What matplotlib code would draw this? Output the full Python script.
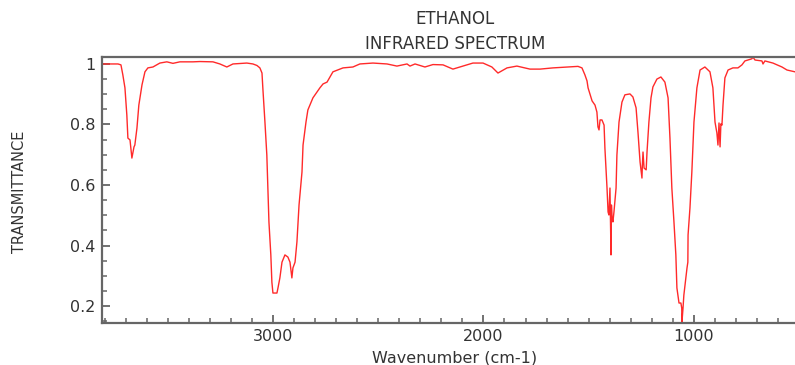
import matplotlib
matplotlib.use("Agg")
import matplotlib.pyplot as plt
from matplotlib.ticker import MultipleLocator

# spectrum: wavenumber (cm-1) and transmittance
wavenumber = [3812, 3736, 3722, 3713, 3703, 3694, 3689, 3679, 3670, 3660, 3656, 3646,
              3637, 3622, 3608, 3594, 3570, 3537, 3504, 3475, 3442, 3409, 3380, 3347,
              3285, 3252, 3219, 3190, 3124, 3095, 3076, 3062, 3052, 3048, 3038, 3029,
              3024, 3019, 3010, 3005, 3000, 2981, 2976, 2967, 2957, 2943, 2929, 2919,
              2910, 2905, 2895, 2886, 2876, 2862, 2857, 2843, 2834, 2810, 2777, 2762,
              2743, 2715, 2667, 2620, 2587, 2525, 2458, 2411, 2363, 2349, 2325, 2278,
              2240, 2192, 2145, 2097, 2050, 2002, 1960, 1931, 1888, 1841, 1779, 1731,
              1670, 1603, 1551, 1532, 1518, 1508, 1503, 1484, 1470, 1461, 1456, 1451,
              1446, 1437, 1427, 1423, 1413, 1408, 1404, 1399, 1394, 1392, 1389, 1385,
              1380, 1370, 1366, 1356, 1342, 1328, 1304, 1290, 1275, 1266, 1256, 1247,
              1245, 1242, 1237, 1227, 1223, 1214, 1204, 1195, 1176, 1157, 1138, 1123,
              1114, 1105, 1095, 1086, 1081, 1071, 1062, 1058, 1057, 1052, 1048, 1033,
              1029, 1028, 1019, 1010, 1000, 986, 971, 948, 924, 910, 900, 891,
              886, 881, 876, 872, 867, 862, 853, 838, 815, 791, 772, 758,
              725, 720, 710, 677, 672, 663, 625, 582, 558, 520]
transmittance = [1.000, 1.000, 0.997, 0.964, 0.921, 0.831, 0.755, 0.749, 0.689, 0.726, 0.732, 0.788,
                 0.864, 0.931, 0.974, 0.987, 0.990, 1.003, 1.007, 1.002, 1.007, 1.007, 1.007, 1.008,
                 1.007, 1.000, 0.990, 1.000, 1.003, 1.000, 0.995, 0.987, 0.970, 0.921, 0.808, 0.699,
                 0.590, 0.478, 0.369, 0.279, 0.243, 0.243, 0.260, 0.293, 0.345, 0.369, 0.362, 0.345,
                 0.293, 0.326, 0.345, 0.412, 0.534, 0.643, 0.732, 0.808, 0.848, 0.888, 0.921, 0.934,
                 0.940, 0.974, 0.987, 0.990, 1.000, 1.003, 1.000, 0.993, 1.000, 0.993, 1.000, 0.990,
                 0.998, 0.997, 0.983, 0.993, 1.003, 1.003, 0.990, 0.970, 0.987, 0.993, 0.983, 0.983,
                 0.987, 0.990, 0.992, 0.987, 0.964, 0.944, 0.921, 0.878, 0.864, 0.841, 0.792, 0.782,
                 0.815, 0.815, 0.798, 0.722, 0.590, 0.511, 0.501, 0.590, 0.369, 0.534, 0.491, 0.478,
                 0.511, 0.590, 0.699, 0.808, 0.874, 0.898, 0.901, 0.891, 0.855, 0.775, 0.676, 0.623,
                 0.666, 0.709, 0.656, 0.650, 0.709, 0.808, 0.888, 0.924, 0.950, 0.957, 0.940, 0.888,
                 0.755, 0.590, 0.478, 0.369, 0.260, 0.210, 0.210, 0.193, 0.147, 0.193, 0.236, 0.326,
                 0.345, 0.435, 0.524, 0.643, 0.808, 0.921, 0.980, 0.990, 0.974, 0.921, 0.808, 0.772,
                 0.732, 0.805, 0.726, 0.802, 0.798, 0.864, 0.954, 0.980, 0.987, 0.987, 0.997, 1.010,
                 1.017, 1.023, 1.013, 1.010, 1.000, 1.010, 1.003, 0.990, 0.980, 0.974]

txt = "#333333"
spine_col = "#666666"

fig = plt.figure(figsize=(7.95, 3.65), dpi=100)
ax = fig.add_axes([102 / 795, 42 / 365, 693 / 795, 266 / 365])

ax.plot(wavenumber, transmittance, color="#ff2a2a", lw=1.0)

ax.set_xlim(3812, 520)
ax.set_ylim(0.144, 1.023)

ax.xaxis.set_major_locator(MultipleLocator(1000))
ax.xaxis.set_minor_locator(MultipleLocator(100))
ax.yaxis.set_major_locator(MultipleLocator(0.2))
ax.yaxis.set_minor_locator(MultipleLocator(0.05))
ax.set_yticks([0.2, 0.4, 0.6, 0.8, 1.0], ["0.2", "0.4", "0.6", "0.8", "1"])

ax.tick_params(which="both", direction="in", colors=spine_col, labelcolor=txt,
               labelsize=11.5, top=False, right=False)
ax.tick_params(which="major", length=6, width=1.3)
ax.tick_params(which="minor", length=3.5, width=1.1)
ax.tick_params(axis="x", pad=4)
ax.tick_params(axis="y", pad=5)

ax.spines["right"].set_visible(False)
for s in ["left", "bottom", "top"]:
    ax.spines[s].set_color(spine_col)
    ax.spines[s].set_linewidth(1.6)

fig.text(455 / 795, 1 - 19 / 365, "ETHANOL", ha="center", va="center", fontsize=12, color=txt)
fig.text(455 / 795, 1 - 44 / 365, "INFRARED SPECTRUM", ha="center", va="center", fontsize=12, color=txt)
fig.text(455 / 795, 1 - 358 / 365, "Wavenumber (cm-1)", ha="center", va="center", fontsize=11.5, color=txt)
fig.text(20 / 795, 1 - 192 / 365, "TRANSMITTANCE", ha="center", va="center", rotation=90,
         fontsize=10.5, color=txt)

fig.savefig("out.png", dpi=100)
